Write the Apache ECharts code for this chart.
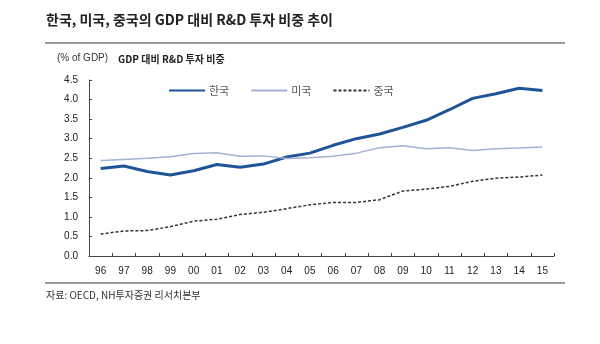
<!DOCTYPE html>
<html><head><meta charset="utf-8">
<script src="https://cdn.jsdelivr.net/npm/echarts@6/dist/echarts.min.js"></script>
<style>html,body{margin:0;padding:0;background:#fff}#c{width:600px;height:344px}</style>
</head><body><div id="c"></div>
<script>
const categories = ['96','97','98','99','00','01','02','03','04','05','06','07','08','09','10','11','12','13','14','15'];
const korea = [2.24,2.30,2.16,2.07,2.18,2.34,2.27,2.35,2.53,2.63,2.83,3.00,3.12,3.29,3.47,3.74,4.03,4.15,4.29,4.23];
const usa   = [2.44,2.47,2.50,2.54,2.62,2.64,2.55,2.56,2.49,2.51,2.55,2.63,2.77,2.82,2.74,2.77,2.70,2.74,2.76,2.79];
const china = [0.56,0.64,0.65,0.75,0.89,0.94,1.06,1.12,1.21,1.31,1.37,1.37,1.44,1.66,1.71,1.78,1.91,1.99,2.02,2.07];
const seriesNames = ['한국','미국','중국'];
const title = '한국, 미국, 중국의 GDP 대비 R&D 투자 비중 추이';
const subtitle = 'GDP 대비 R&D 투자 비중';
const unit = '(% of GDP)';
const source = '자료: OECD, NH투자증권 리서치본부';

const FONT = '"Liberation Sans Narrow","Liberation Sans","Noto Sans CJK KR",sans-serif';
const chart = echarts.init(document.getElementById('c'), null, {renderer:'canvas'});
chart.setOption({
  backgroundColor:'#fff',
  animation:false,
  textStyle:{fontFamily:FONT},
  graphic:[
    {type:'text', left:46, top:13, style:{text:title, font:'bold 14px "Noto Sans CJK KR", sans-serif', fill:'#222'}},
    {type:'rect', shape:{x:45,y:42,width:520,height:2}, style:{fill:'#999'}},
    {type:'text', left:57, top:53, style:{text:unit, font:'10px '+FONT, fill:'#333'}},
    {type:'text', left:118, top:54, style:{text:subtitle, font:'bold 10px "Noto Sans CJK KR", sans-serif', fill:'#222'}},
    {type:'rect', shape:{x:45,y:282,width:520,height:2}, style:{fill:'#999'}},
    {type:'text', left:46, top:290, style:{text:source, font:'10px "Noto Sans CJK KR", sans-serif', fill:'#333'}}
  ],
  legend:{
    left:163, top:80, itemWidth:36, itemHeight:10, itemGap:21,
    itemStyle:{opacity:0},
    textStyle:{fontFamily:'"Noto Sans CJK KR", sans-serif', fontSize:11, color:'#555', padding:[0,0,0,-1]},
    data:seriesNames
  },
  grid:{left:89, right:46, top:80, bottom:88},
  xAxis:{
    type:'category', data:categories, boundaryGap:true,
    axisLine:{lineStyle:{color:'#444', width:1}},
    axisTick:{show:true, inside:true, length:3, lineStyle:{color:'#444'}},
    axisLabel:{color:'#222', fontSize:10, margin:10, fontFamily:FONT}
  },
  yAxis:{
    type:'value', min:0, max:4.5, interval:0.5,
    axisLine:{show:true, lineStyle:{color:'#444', width:1}},
    axisTick:{show:true, inside:true, length:3, lineStyle:{color:'#444'}},
    splitLine:{show:false},
    axisLabel:{color:'#222', fontSize:10, margin:11, fontFamily:FONT, formatter:v=>v.toFixed(1)}
  },
  series:[
    {name:seriesNames[0], type:'line', data:korea, symbol:'none', lineStyle:{color:'#1f5597', width:3}, itemStyle:{color:'#1f5597'}},
    {name:seriesNames[1], type:'line', data:usa, symbol:'none', lineStyle:{color:'#a3b2d3', width:1.5}, itemStyle:{color:'#a3b2d3'}},
    {name:seriesNames[2], type:'line', data:china, symbol:'none', lineStyle:{color:'#333', width:1.5, type:[3,2]}, itemStyle:{color:'#333'}}
  ]
});
</script></body></html>
